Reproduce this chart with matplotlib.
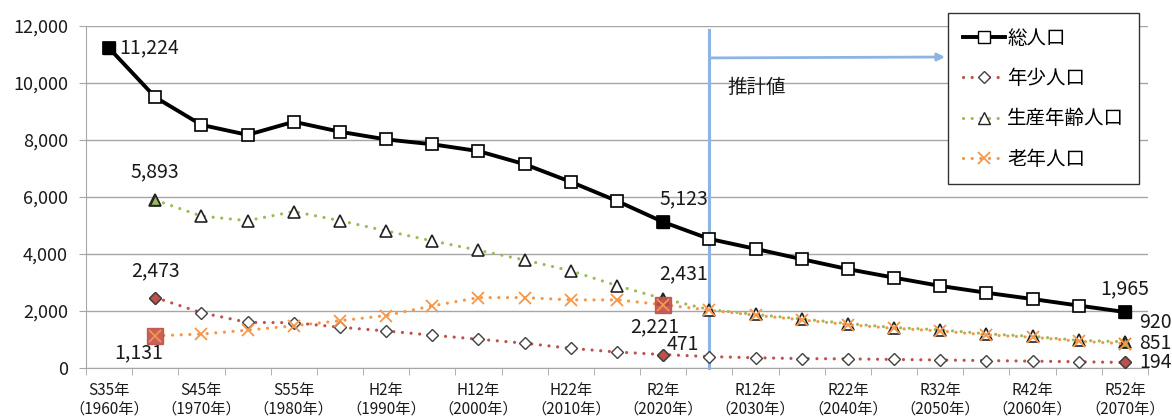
import numpy as np
import matplotlib
matplotlib.use("Agg")
import matplotlib.pyplot as plt
from matplotlib.lines import Line2D

plt.rcParams['font.family'] = ['Noto Sans CJK JP', 'DejaVu Sans']

# data (people), 1960..2070 every 5 years
years = list(range(1960, 2071, 5))
tick_labels = ['S35年\n（1960年）', 'S45年\n（1970年）', 'S55年\n（1980年）', 'H2年\n（1990年）',
               'H12年\n（2000年）', 'H22年\n（2010年）', 'R2年\n（2020年）', 'R12年\n（2030年）',
               'R22年\n（2040年）', 'R32年\n（2050年）', 'R42年\n（2060年）', 'R52年\n（2070年）']
total = [11224, 9500, 8530, 8180, 8640, 8290, 8020, 7850, 7610, 7150, 6530, 5860,
         5123, 4530, 4180, 3820, 3470, 3170, 2880, 2640, 2420, 2190, 1965]
young = [np.nan, 2473, 1940, 1600, 1590, 1430, 1300, 1150, 1010, 870, 690, 560,
         471, 400, 360, 330, 320, 300, 280, 260, 240, 220, 194]
working = [np.nan, 5893, 5330, 5170, 5490, 5170, 4810, 4460, 4130, 3790, 3410, 2890,
           2431, 2050, 1880, 1720, 1560, 1420, 1340, 1200, 1110, 970, 920]
elderly = [np.nan, 1131, 1190, 1330, 1480, 1660, 1840, 2180, 2470, 2470, 2390, 2390,
           2221, 2030, 1850, 1690, 1520, 1390, 1300, 1160, 1080, 940, 851]

RED = '#C0504D'
GREEN = '#9BBB59'
ORANGE = '#F79646'
BLUE = '#8DB4E2'
GRID = '#A6A6A6'
EDGE = '#404040'
TXT = '#1a1a1a'

x = np.arange(len(years))
total = np.array(total, float)
young = np.array(young, float)
working = np.array(working, float)
elderly = np.array(elderly, float)

fig = plt.figure(figsize=(11.72, 4.19), dpi=100)
ax = fig.add_axes([86 / 1172, 1 - 368 / 419, (1148 - 86) / 1172, (368 - 26) / 419])

dots = (0, (0.01, 2.7))

# lines
ax.plot(x, total, '-', color='black', lw=2.8, marker='s', ms=8,
        mfc='white', mec='black', mew=1.2, zorder=5)
ax.plot(x, young, color=RED, ls=dots, lw=2.3, dash_capstyle='round',
        marker='D', ms=6.5, mfc='white', mec=EDGE, mew=1.0, zorder=4)
ax.plot(x, working, color=GREEN, ls=dots, lw=2.3, dash_capstyle='round',
        marker='^', ms=8.5, mfc='white', mec='#222222', mew=1.2, zorder=4)
ax.plot(x, elderly, color=ORANGE, ls=dots, lw=2.3, dash_capstyle='round',
        marker='x', ms=8, mec=ORANGE, mew=1.3, zorder=4)

# highlighted points
hi_total = [0, 12, 22]
hi = [1, 12, 22]
ax.plot(x[hi_total], total[hi_total], 's', ms=8, mfc='black', mec='black', zorder=6)
ax.plot(x[hi], young[hi], 'D', ms=6.5, mfc=RED, mec=EDGE, mew=1.0, zorder=6)
ax.plot(x[hi], working[hi], '^', ms=7, mfc=GREEN, mec='#222222', mew=1.0, zorder=6)
ax.plot(x[[1, 12]], elderly[[1, 12]], 's', ms=12, mfc=RED, mec=RED, alpha=0.9, zorder=7)
ax.plot(x[hi], elderly[hi], 'x', ms=8, mec=ORANGE, mew=1.3, zorder=8)

# data labels
fs = 14
def lab(txt, xi, yv, dx, dy, ha='center'):
    ax.annotate(txt, (xi, yv), xytext=(dx, dy), textcoords='offset points',
                ha=ha, va='center', fontsize=fs, color=TXT, zorder=9,
                annotation_clip=False)

lab('11,224', 0, total[0], 7, 0, ha='left')
lab('5,893', 1, working[1], 0, 20)
lab('2,473', 1, young[1], 0, 19)
lab('1,131', 1, elderly[1], -12, -12)
lab('5,123', 12, total[12], 15, 17)
lab('2,431', 12, working[12], 15, 18)
lab('2,221', 12, elderly[12], -6, -16)
lab('471', 12, young[12], 14, 7)
lab('1,965', 22, total[22], 0, 17)
lab('920', 22, working[22], 10, 14, ha='left')
lab('851', 22, elderly[22], 10, 0, ha='left')
lab('194', 22, young[22], 10, 0, ha='left')

# estimate marker
ax.plot([13, 13], [0, 11850], color=BLUE, lw=2.2, zorder=3, clip_on=False)
ax.annotate('', xy=(945 / 1172, 1 - 57 / 419), xycoords='figure fraction',
            xytext=(13, 10880), textcoords='data',
            arrowprops=dict(arrowstyle='-|>', color=BLUE, lw=2, mutation_scale=11,
                            shrinkA=0, shrinkB=0))
ax.text(13.4, 9860, '推計値', fontsize=14, ha='left', va='center', color=TXT)

# axes
ax.set_xlim(-0.5, len(years) - 0.5)
ax.set_ylim(0, 12000)
ax.set_yticks(range(0, 12001, 2000))
ax.set_yticklabels(['{:,}'.format(v) for v in range(0, 12001, 2000)], fontsize=13,
                   color=TXT)
ax.set_xticks(x[::2])
ax.set_xticklabels(tick_labels, fontsize=11, color=TXT, linespacing=1.1)
ax.set_xticks(np.arange(-0.5, len(years), 1), minor=True)
ax.tick_params(axis='x', which='major', length=0, pad=10)
ax.tick_params(axis='x', which='minor', length=5, color=GRID)
ax.tick_params(axis='y', length=5, color=GRID, pad=8)
ax.grid(axis='y', color=GRID, lw=1)
ax.set_axisbelow(True)
for s in ['top', 'right']:
    ax.spines[s].set_visible(False)
for s in ['left', 'bottom']:
    ax.spines[s].set_color(GRID)

# legend
handles = [
    Line2D([], [], color='black', lw=2.8, marker='s', ms=8, mfc='white', mec='black'),
    Line2D([], [], color=RED, ls=dots, lw=2.3, dash_capstyle='round', marker='D', ms=6.5,
           mfc='white', mec=EDGE),
    Line2D([], [], color=GREEN, ls=dots, lw=2.3, dash_capstyle='round', marker='^', ms=8.5,
           mfc='white', mec='#222222'),
    Line2D([], [], color=ORANGE, ls=dots, lw=2.3, dash_capstyle='round', marker='x', ms=8,
           mec=ORANGE, mew=1.3),
]
names = ['総人口', '年少人口', '生産年齢人口', '老年人口']
leg = fig.legend(handles, names, loc='upper left',
                 bbox_to_anchor=(948 / 1172, 1 - 13 / 419), fontsize=14,
                 handlelength=2.2, handletextpad=0.1, labelspacing=1.0,
                 borderpad=0.75, borderaxespad=0, fancybox=False,
                 edgecolor='#333333', framealpha=1)
leg.get_frame().set_linewidth(1.0)

fig.savefig('out.png', dpi=100)
